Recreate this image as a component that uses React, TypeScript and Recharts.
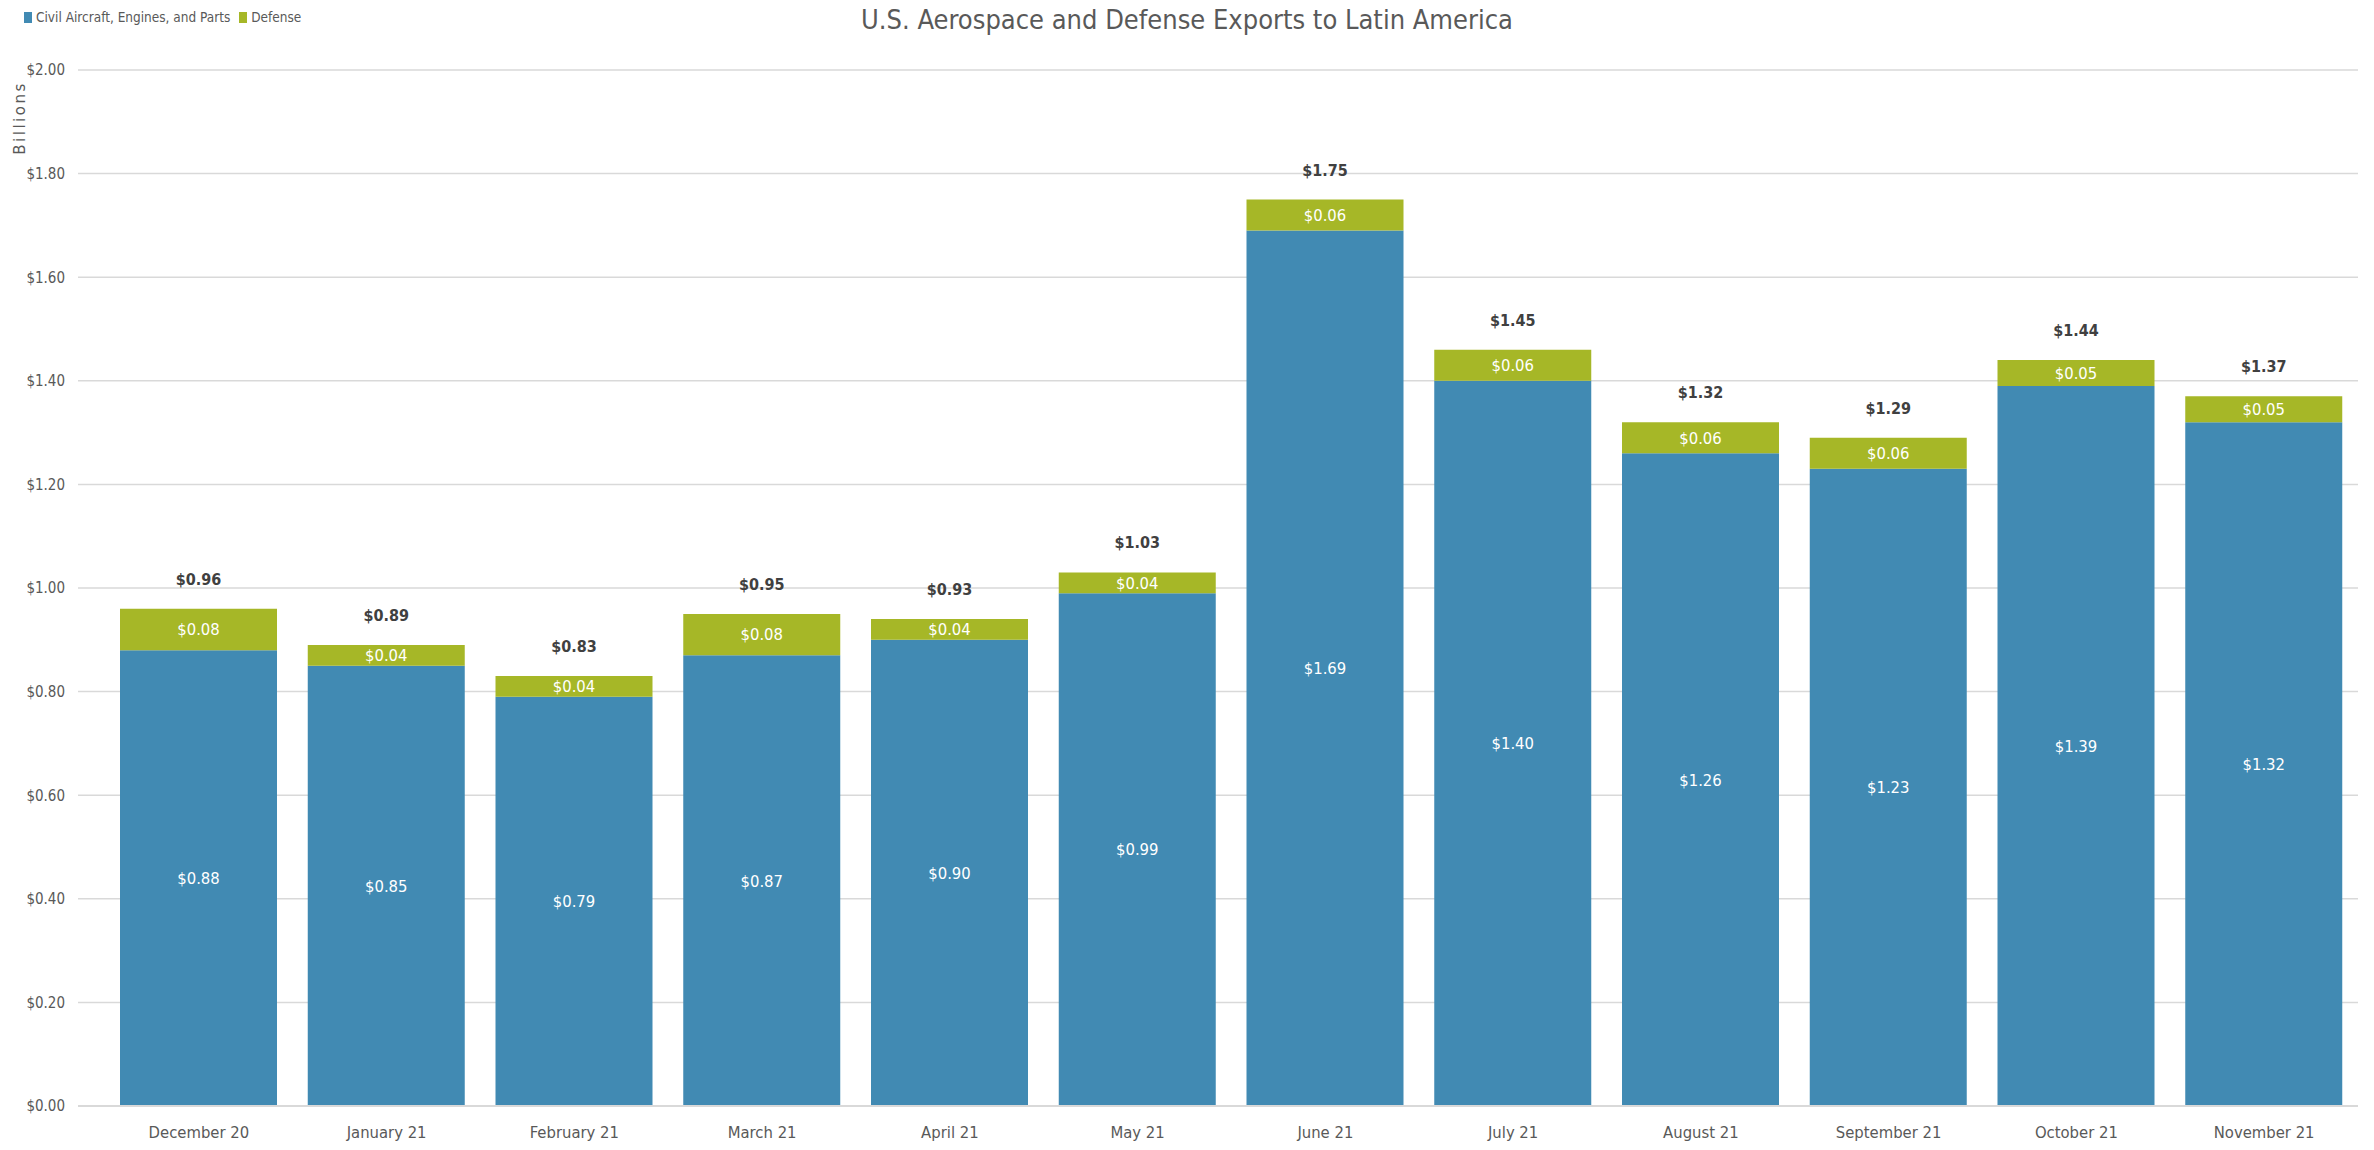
import { BarChart, Bar, XAxis, YAxis, CartesianGrid, LabelList } from "recharts";

const months = [
  "December 20",
  "January 21",
  "February 21",
  "March 21",
  "April 21",
  "May 21",
  "June 21",
  "July 21",
  "August 21",
  "September 21",
  "October 21",
  "November 21",
];
const civil = [0.88, 0.85, 0.79, 0.87, 0.9, 0.99, 1.69, 1.4, 1.26, 1.23, 1.39, 1.32];
const defense = [0.08, 0.04, 0.04, 0.08, 0.04, 0.04, 0.06, 0.06, 0.06, 0.06, 0.05, 0.05];
const totals = [0.96, 0.89, 0.83, 0.95, 0.93, 1.03, 1.75, 1.45, 1.32, 1.29, 1.44, 1.37];
const yTicks = [0, 0.2, 0.4, 0.6, 0.8, 1.0, 1.2, 1.4, 1.6, 1.8, 2.0];

const BLUE = "#418ab3";
const GREEN = "#a6b727";
const FONT = "'DejaVu Sans Condensed', 'Open Sans', sans-serif";

const data = months.map((m, i) => ({
  month: m,
  civil: civil[i],
  defense: defense[i],
  total: totals[i],
}));

const money = (v: number) => `$${Number(v).toFixed(2)}`;

const legendItems = [
  { name: "Civil Aircraft, Engines, and Parts", color: BLUE },
  { name: "Defense", color: GREEN },
];

export default function App() {
  return (
    <div style={{ position: "absolute", left: 0, top: 0, width: 2374, height: 1150, background: "#fff" }}>
      <div
        style={{
          position: "absolute",
          left: 24,
          top: 9,
          display: "flex",
          gap: 9,
          fontFamily: FONT,
          fontSize: 13.5,
          color: "#595959",
        }}
      >
        {legendItems.map((it) => (
          <div key={it.name} style={{ display: "flex", alignItems: "center", gap: 4 }}>
            <span style={{ width: 8, height: 11, background: it.color, display: "inline-block" }} />
            <span>{it.name}</span>
          </div>
        ))}
      </div>
      <div
        style={{
          position: "absolute",
          left: 0,
          width: 2374,
          top: 4,
          textAlign: "center",
          fontFamily: FONT,
          fontSize: 27,
          color: "#595959",
        }}
      >
        U.S. Aerospace and Defense Exports to Latin America
      </div>
      <div
        style={{
          position: "absolute",
          left: 20,
          top: 118,
          transform: "translate(-50%, -50%) rotate(-90deg)",
          fontFamily: "'DejaVu Sans', sans-serif",
          fontSize: 15,
          letterSpacing: 2.5,
          color: "#595959",
          whiteSpace: "nowrap",
        }}
      >
        Billions
      </div>
      <BarChart
        width={2374}
        height={1150}
        data={data}
        barSize={157}
        margin={{ top: 70, right: 16, left: 0, bottom: 0 }}
      >
        <CartesianGrid vertical={false} stroke="#d9d9d9" strokeWidth={1.5} />
        <XAxis
          dataKey="month"
          height={44}
          padding={{ left: 27, right: 0 }}
          axisLine={{ stroke: "#d9d9d9", strokeWidth: 2 }}
          tickLine={false}
          tickSize={0}
          tickMargin={20}
          interval={0}
          tick={{ fontSize: 16.5, fill: "#595959", fontFamily: FONT }}
        />
        <YAxis
          width={78}
          domain={[0, 2]}
          ticks={yTicks}
          tickFormatter={money}
          axisLine={false}
          tickLine={false}
          tickSize={0}
          tickMargin={13}
          tick={{ fontSize: 15, fill: "#595959", fontFamily: FONT }}
        />
        <Bar dataKey="civil" stackId="a" fill={BLUE} isAnimationActive={false}>
          <LabelList
            dataKey="civil"
            position="center"
            formatter={money}
            style={{ fill: "#ffffff", fontSize: 16.5, fontFamily: FONT }}
          />
        </Bar>
        <Bar dataKey="defense" stackId="a" fill={GREEN} isAnimationActive={false}>
          <LabelList
            dataKey="defense"
            position="center"
            formatter={money}
            style={{ fill: "#ffffff", fontSize: 16.5, fontFamily: FONT }}
          />
          <LabelList
            dataKey="total"
            position="top"
            offset={24}
            formatter={money}
            style={{ fill: "#404040", fontSize: 16, fontWeight: "bold", fontFamily: FONT }}
          />
        </Bar>
      </BarChart>
    </div>
  );
}
